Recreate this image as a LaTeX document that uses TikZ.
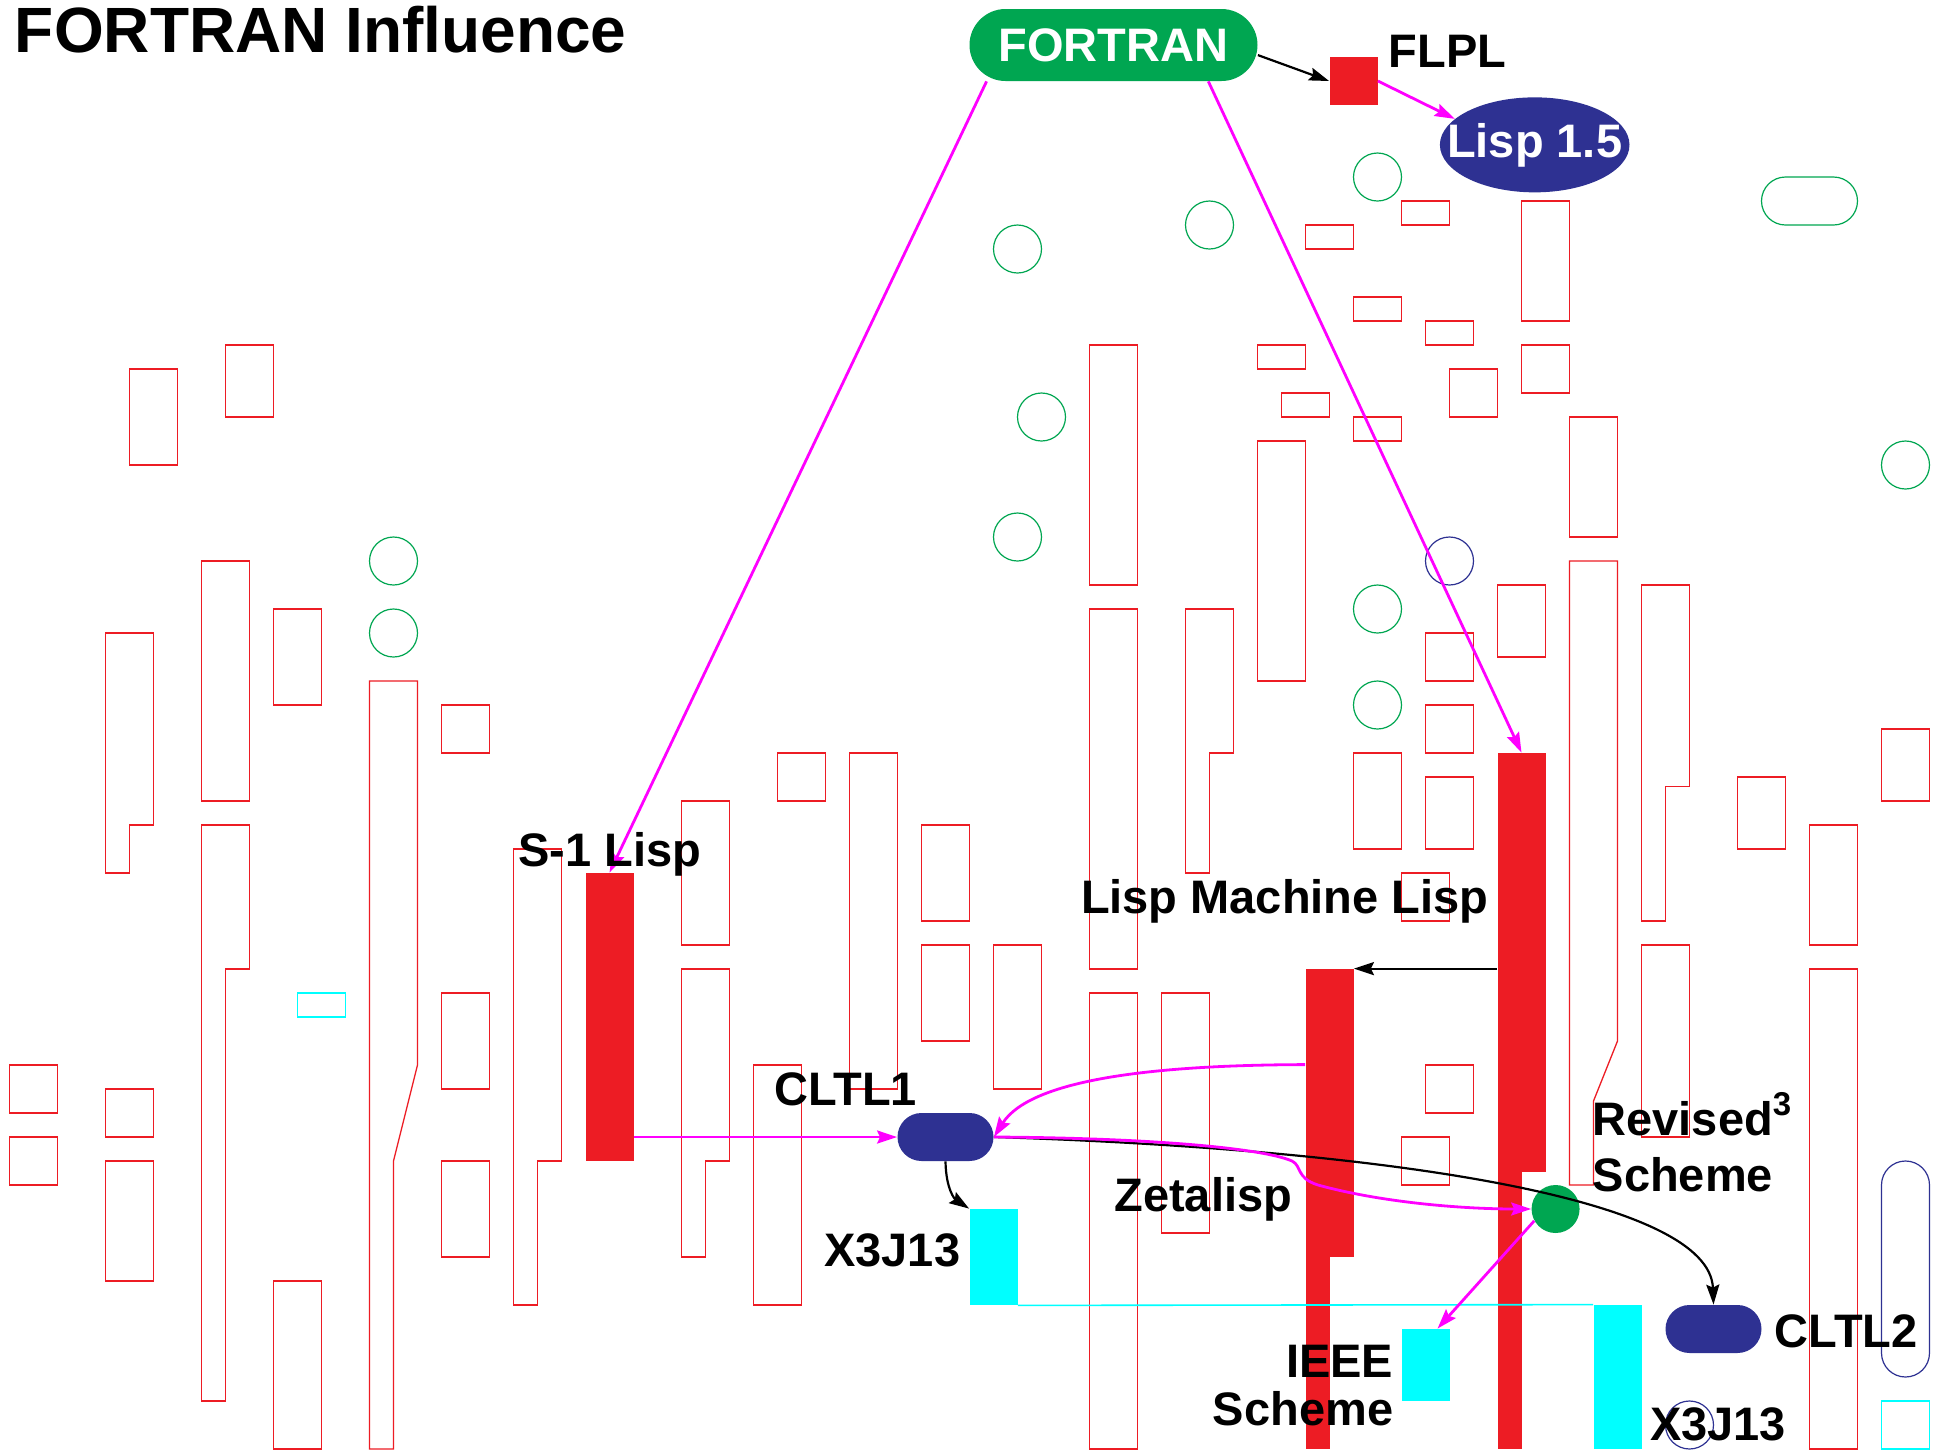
\documentclass[tikz,border=0pt]{standalone}
\usepackage{fontspec}
\setmainfont{Liberation Sans}
\usetikzlibrary{arrows.meta,shapes.geometric,calc}
\definecolor{lred}{RGB}{237,28,36}
\definecolor{lgreen}{RGB}{0,166,81}
\definecolor{lnavy}{RGB}{46,49,146}
\definecolor{lcyan}{RGB}{0,255,255}
\definecolor{lmag}{RGB}{255,0,255}
\begin{document}
\begin{tikzpicture}[x=12pt,y=-12pt,
  outl/.style={draw=lred,line width=0.65pt},
  ring/.style={draw=lgreen,line width=0.6pt},
  navyring/.style={draw=lnavy,line width=0.6pt},
  lbl/.style={font=\fontsize{23.5}{28}\selectfont\bfseries,inner sep=0pt},
  magarrow/.style={draw=lmag,line width=1.4pt,-{Stealth[length=10pt,width=6.5pt,inset=1.5pt]}},
  blkarrow/.style={draw=black,line width=1.1pt,-{Stealth[length=10pt,width=6.5pt,inset=1.5pt]}},
  redbar/.style={fill=lred,draw=none,inner sep=0pt,minimum width=24pt},
  cyanbar/.style={fill=lcyan,draw=none,inner sep=0pt,minimum width=24pt},
  navypill/.style={fill=lnavy,draw=none,inner sep=0pt,minimum width=48pt,minimum height=24pt,rounded corners=12pt},
]
\useasboundingbox (-0.396,-0.375) rectangle (80.521,60.042);
\fill[white] (-0.396,-0.375) rectangle (80.521,60.042);

% ---------- background outlines ----------
\draw[outl] (5,15) rectangle (7,19);
\draw[outl] (9,14) rectangle (11,17);
\draw[outl] (4,26) -- (6,26) -- (6,34) -- (5,34) -- (5,36) -- (4,36) -- cycle;
\draw[outl] (8,23) rectangle (10,33);
\draw[outl] (8,34) -- (10,34) -- (10,40) -- (9,40) -- (9,58) -- (8,58) -- cycle;
\draw[outl] (11,25) rectangle (13,29);
\draw[outl] (15,28) -- (17,28) -- (17,44) -- (16,48) -- (16,60) -- (15,60) -- cycle;
\draw[outl] (18,29) rectangle (20,31);
\draw[outl] (18,41) rectangle (20,45);
\draw[outl] (18,48) rectangle (20,52);
\draw[outl] (21,35) -- (23,35) -- (23,48) -- (22,48) -- (22,54) -- (21,54) -- cycle;
\draw[outl] (0,44) rectangle (2,46);
\draw[outl] (0,47) rectangle (2,49);
\draw[outl] (4,45) rectangle (6,47);
\draw[outl] (4,48) rectangle (6,53);
\draw[outl] (11,53) rectangle (13,60);
\draw[draw=lcyan,line width=0.65pt] (12,41) rectangle (14,42);
\draw[outl] (28,33) rectangle (30,39);
\draw[outl] (28,40) -- (30,40) -- (30,48) -- (29,48) -- (29,52) -- (28,52) -- cycle;
\draw[outl] (31,44) rectangle (33,54);
\draw[outl] (32,31) rectangle (34,33);
\draw[outl] (35,31) rectangle (37,45);
\draw[outl] (38,34) rectangle (40,38);
\draw[outl] (38,39) rectangle (40,43);
\draw[outl] (41,39) rectangle (43,45);
\draw[outl] (45,14) rectangle (47,24);
\draw[outl] (45,25) rectangle (47,40);
\draw[outl] (45,41) rectangle (47,60);
\draw[outl] (48,41) rectangle (50,51);
\draw[outl] (49,25) -- (51,25) -- (51,31) -- (50,31) -- (50,36) -- (49,36) -- cycle;
\draw[outl] (52,14) rectangle (54,15);
\draw[outl] (53,16) rectangle (55,17);
\draw[outl] (52,18) rectangle (54,28);
\draw[outl] (54,9) rectangle (56,10);
\draw[outl] (56,12) rectangle (58,13);
\draw[outl] (56,17) rectangle (58,18);
\draw[outl] (58,8) rectangle (60,9);
\draw[outl] (59,13) rectangle (61,14);
\draw[outl] (60,15) rectangle (62,17);
\draw[outl] (63,8) rectangle (65,13);
\draw[outl] (63,14) rectangle (65,16);
\draw[outl] (65,17) rectangle (67,22);
\draw[outl] (62,24) rectangle (64,27);
\draw[outl] (59,26) rectangle (61,28);
\draw[outl] (59,29) rectangle (61,31);
\draw[outl] (56,31) rectangle (58,35);
\draw[outl] (59,32) rectangle (61,35);
\draw[outl] (58,36) rectangle (60,38);
\draw[outl] (59,44) rectangle (61,46);
\draw[outl] (58,47) rectangle (60,49);
\draw[outl] (65,23) -- (67,23) -- (67,43) -- (66,45.5) -- (66,49) -- (65,49) -- cycle;
\draw[outl] (68,24) -- (70,24) -- (70,32.4) -- (69,32.4) -- (69,38) -- (68,38) -- cycle;
\draw[outl] (68,39) rectangle (70,47);
\draw[outl] (72,32) rectangle (74,35);
\draw[outl] (78,30) rectangle (80,33);
\draw[outl] (75,34) rectangle (77,39);
\draw[outl] (75,40) rectangle (77,60);
\draw[ring,rounded corners=12pt] (73,7) rectangle (77,9);
\draw[navyring,rounded corners=12pt] (78,48) rectangle (80,57);
\draw[draw=lcyan,line width=0.65pt] (78,58) rectangle (80,60);
\draw[navyring] (70,59) circle[radius=1];
\foreach \p in {(42,10),(50,9),(57,7),(43,17),(42,22),(16,23),(16,26),(57,25),(57,29),(79,19)}
  \draw[ring] \p circle[radius=1];
\draw[navyring] (60,23) circle[radius=1];

% ---------- main nodes ----------
\node[fill=lgreen,text=white,inner sep=0pt,minimum width=144pt,minimum height=36pt,rounded corners=18pt,
      font=\fontsize{23.5}{28}\selectfont\bfseries] (fortran) at (46,1.5) {FORTRAN};
\node[redbar,minimum height=24pt] (flpl) at (56,3) {};
\node[ellipse,fill=lnavy,text=white,inner sep=0pt,minimum width=94.8pt,minimum height=47.5pt,
      font=\fontsize{23.5}{28}\selectfont\bfseries] (lisp15) at (63.55,5.66) {\makebox[0pt]{Lisp 1.5}};
\node[redbar,minimum height=144pt] (s1) at (25,42) {};
\node[redbar,minimum height=209.4pt] (lml) at (63,39.725) {};
\fill[lred] (62,48.4) rectangle (63,60);
\node[redbar,minimum height=144pt] (zeta) at (55,46) {};
\fill[lred] (54,51.9) rectangle (55,60);
\node[navypill] (cltl1) at (39,47) {};
\node[cyanbar,minimum height=48pt] (x3a) at (41,52) {};
\node[cyanbar,minimum height=72pt] (x3b) at (67,57) {};
\node[circle,fill=lgreen,draw=none,inner sep=0pt,minimum size=24pt] (r3) at (64.42,50) {};
\node[cyanbar,minimum height=36pt] (ieee) at (59,56.5) {};
\node[navypill] (cltl2) at (71,55) {};

% ---------- connectors ----------
\draw[draw=lcyan,line width=0.8pt] (x3a.south east) -- (x3b.north west);
\draw[blkarrow] (fortran.-4.8) -- (flpl.west);
\draw[magarrow] (flpl.east) -- (lisp15.162);
\draw[magarrow] (fortran.196.5) -- (s1.north);
\draw[magarrow] (fortran.339.5) -- (lml.north);
\draw[blkarrow] (lml.west |- zeta.north east) -- (zeta.north east);
\draw[magarrow] ($(zeta.north west)+(0,4)$) .. controls (47.52,44.0) and (42.52,44.625) .. (cltl1.east);
\draw[magarrow] (s1.east |- cltl1.west) -- (cltl1.west);
\draw[blkarrow] (cltl1.south) .. controls (39.02,49.2) and (39.4,49.6) .. (x3a.north west);
\draw[blkarrow] (cltl1.east) .. controls (57.94,47.54) and (70.85,49.625) .. (cltl2.north);
\draw[magarrow] (cltl1.east) .. controls (47.52,47.04) and (52.19,47.46) .. (53.44,48.0)
   .. controls (53.85,48.21) and (53.6,48.71) .. (54.52,49.0)
   .. controls (57.1,49.71) and (60.44,50.0) .. (r3.west);
\draw[magarrow] (r3.209) -- ([xshift=6pt]ieee.north);

% ---------- labels ----------
\node[inner sep=0pt,anchor=base west,font=\fontsize{32}{38}\selectfont\bfseries] (title) at (0.21,1.80) {FORTRAN Influence};
\node[lbl,anchor=base west] (flpllbl) at (57.46,2.45) {FLPL};
\node[lbl,anchor=base west] (s1lbl) at (21.19,35.74) {S-1 Lisp};
\node[lbl,anchor=base west] (lmllbl) at (44.63,37.67) {Lisp Machine Lisp};
\node[lbl,anchor=base west] (cltl1lbl) at (31.85,45.67) {CLTL1};
\node[lbl,anchor=base east] (x3albl) at (39.63,52.38) {X3J13};
\node[lbl,anchor=base west] (zetalbl) at (46.02,50.11) {Zetalisp};
\node[lbl,anchor=base west] (r3lbla) at (65.95,46.92) {Revised\raisebox{10pt}{\fontsize{16.5}{16.5}\selectfont 3}};
\node[lbl,anchor=base west] (r3lblb) at (65.95,49.28) {Scheme};
\node[lbl,anchor=base east] (ieeelbla) at (57.67,57.04) {IEEE};
\node[lbl,anchor=base east] (ieeelblb) at (57.67,59.0) {Scheme};
\node[lbl,anchor=base west] (cltl2lbl) at (73.54,55.79) {CLTL2};
\node[lbl,anchor=base west] (x3blbl) at (68.34,59.63) {X3J13};
\end{tikzpicture}
\end{document}
